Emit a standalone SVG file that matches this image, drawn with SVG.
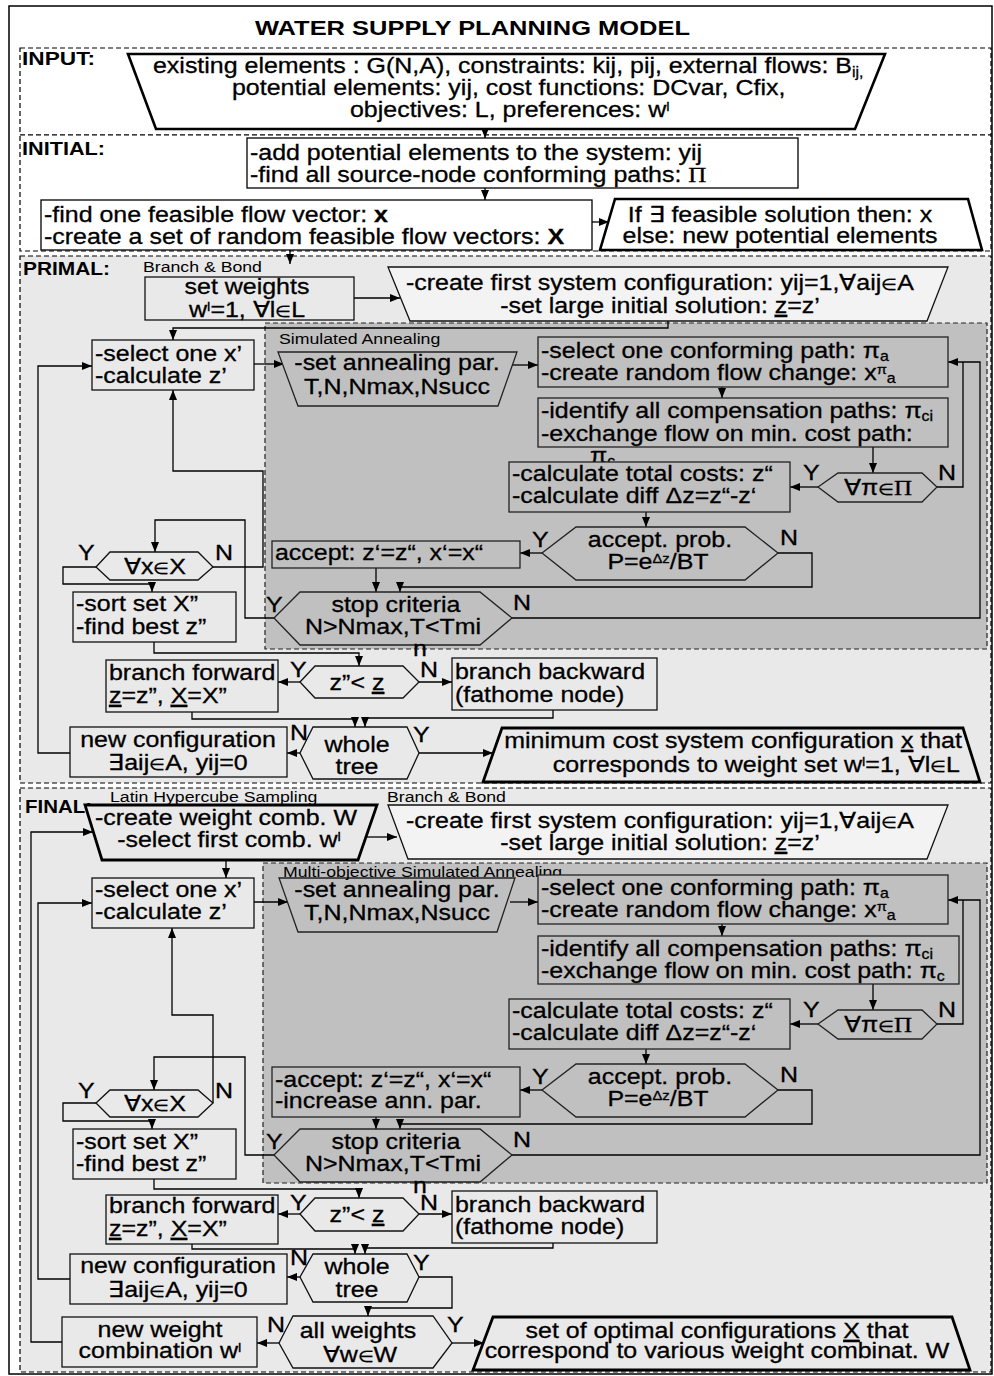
<svg xmlns="http://www.w3.org/2000/svg" width="994" height="1376" viewBox="0 0 994 1376">
<style>
text{font-family:"Liberation Sans",Arial,Helvetica,sans-serif;fill:#000}
.t{font-size:22px;stroke:#000;stroke-width:0.3;transform-box:fill-box;transform:scaleX(1.135)}
.s{font-size:15px;transform-box:fill-box;transform:scaleX(1.18)}
.l{transform-origin:0% 50%}
.m{text-anchor:middle;transform-origin:50% 50%}
.e{text-anchor:end;transform-origin:100% 50%}
.bl{font-size:17.5px;font-weight:bold}
.ttl{font-size:19.5px;font-weight:bold}
.sup{font-size:13px}
.sub{font-size:14px}
.el{font-size:16px}
.ser{font-family:"Liberation Serif","Times New Roman",serif}
.u{text-decoration:underline}
.frame{fill:#fff;stroke:#000;stroke-width:1.5}
.zw{fill:#fff;stroke:#000;stroke-width:1.2;stroke-dasharray:5 3}
.zg{fill:#e9e9e9;stroke:#000;stroke-width:1.2;stroke-dasharray:5 3}
.zd{fill:#c0c0c0;stroke:#222;stroke-width:1.2;stroke-dasharray:5 3}
.bw{fill:#fff;stroke:#000;stroke-width:1.3}
.bg{fill:#e9e9e9;stroke:#111;stroke-width:1.3}
.bp{fill:#f3f3f3;stroke:#111;stroke-width:1.3}
.bd{fill:#c0c0c0;stroke:#222;stroke-width:1.3}
.tw{fill:#fff;stroke:#000;stroke-width:2.6}
.tg{fill:#e9e9e9;stroke:#000;stroke-width:2.8}
.c{fill:none;stroke:#000;stroke-width:1.3;marker-end:url(#ah)}
.cn{fill:none;stroke:#000;stroke-width:1.3}
</style>
<defs>
<marker id="ah" viewBox="0 0 10 8" refX="10" refY="4" markerWidth="10" markerHeight="8" markerUnits="userSpaceOnUse" orient="auto"><path d="M0,0L10,4L0,8z" fill="#000"/></marker>
</defs>

<!-- frame and zones -->
<g id="zones">
<rect class="frame" x="9" y="6" width="983" height="1368"/>
<text class="ttl" x="255" y="35" textLength="435" lengthAdjust="spacingAndGlyphs">WATER SUPPLY PLANNING MODEL</text>
<rect class="zw" x="20" y="48" width="971" height="87"/>
<rect class="zw" x="20" y="135" width="971" height="116"/>
<rect class="zg" x="20" y="256" width="971" height="527"/>
<rect class="zg" x="20" y="788" width="971" height="584"/>
<rect class="zd" x="265" y="323" width="722" height="326"/>
<rect class="zd" x="263" y="863" width="724" height="320"/>
<text class="bl" x="22" y="65" textLength="73" lengthAdjust="spacingAndGlyphs">INPUT:</text>
<text class="bl" x="22" y="155" textLength="83" lengthAdjust="spacingAndGlyphs">INITIAL:</text>
<text class="bl" x="23" y="275" textLength="87" lengthAdjust="spacingAndGlyphs">PRIMAL:</text>
<text class="bl" x="25" y="813" textLength="67" lengthAdjust="spacingAndGlyphs">FINAL:</text>
<text class="s l" x="143" y="272">Branch &amp; Bond</text>
<text class="s l" x="279" y="344">Simulated Annealing</text>
<text class="s l" x="110" y="802">Latin Hypercube Sampling</text>
<text class="s l" x="387" y="802">Branch &amp; Bond</text>
</g>

<!-- connectors -->
<g id="connectors">
<path class="c" d="M485,129V138"/>
<path class="c" d="M485,188V200"/>
<path class="c" d="M592,222H609"/>
<path class="c" d="M290,250V264"/>
<path class="c" d="M354,298H400"/>
<path class="c" d="M668,321V328H173V340"/>
<path class="c" d="M70,753H38V366H92"/>
<path class="c" d="M254,364H284"/>
<path class="c" d="M510,365H538"/>
<path class="c" d="M722,387V398"/>
<path class="c" d="M873,447V473"/>
<path class="c" d="M818,487H790"/>
<path class="cn" d="M937,487H963V362"/>
<path class="c" d="M646,512V527"/>
<path class="c" d="M542,553H520"/>
<path class="c" d="M778,553H812V587H400V592"/>
<path class="c" d="M376,568V592"/>
<path class="c" d="M512,618H980V362H948"/>
<path class="c" d="M274,618H245V520H155V552"/>
<path class="c" d="M96,567H63V584H152V592"/>
<path class="c" d="M213,567H263V471H173V390"/>
<path class="c" d="M154,642V653H359V666"/>
<path class="c" d="M300,682H278"/>
<path class="c" d="M419,682H452"/>
<path class="c" d="M192,712V719H355V727"/>
<path class="c" d="M553,710V718H365V727"/>
<path class="c" d="M300,753H287"/>
<path class="c" d="M419,753H493"/>

<path class="c" d="M226,860V878"/>
<path class="c" d="M366,837H397"/>
<path class="c" d="M62,1342H31V832H93"/>
<path class="c" d="M254,902H288"/>
<path class="c" d="M510,902H538"/>
<path class="c" d="M722,924V936"/>
<path class="c" d="M873,984V1010"/>
<path class="c" d="M818,1024H790"/>
<path class="cn" d="M937,1024H963V900"/>
<path class="c" d="M646,1049V1064"/>
<path class="c" d="M542,1090H520"/>
<path class="c" d="M778,1090H812V1124H400V1129"/>
<path class="c" d="M376,1117V1129"/>
<path class="c" d="M512,1155H980V900H948"/>
<path class="c" d="M274,1155H245V1057H154V1090"/>
<path class="c" d="M96,1103H63V1121H152V1129"/>
<path class="c" d="M213,1103V1015H172V928"/>
<path class="c" d="M154,1179V1189H359V1198"/>
<path class="c" d="M300,1214H278"/>
<path class="c" d="M419,1214H452"/>
<path class="c" d="M192,1244V1249H355V1254"/>
<path class="c" d="M553,1243V1248H365V1254"/>
<path class="c" d="M300,1277H287"/>
<path class="c" d="M70,1279H38V903H92"/>
<path class="c" d="M419,1277H452V1308H368V1316"/>
<path class="c" d="M279,1343H257"/>
<path class="c" d="M452,1343H484"/>
</g>

<!-- INPUT -->
<g id="input-data">
<polygon class="tw" points="128,54 885,54 855,129 156,129"/>
<text class="t l" x="153" y="73">existing elements : G(N,A), constraints: kij, pij, external flows: B<tspan class="sub" baseline-shift="-4">ij,</tspan></text>
<text class="t l" x="232" y="95">potential elements: yij, cost functions: DCvar, Cfix,</text>
<text class="t l" x="350" y="117">objectives: L, preferences: w<tspan class="sup" baseline-shift="6">l</tspan></text>
</g>

<!-- INITIAL -->
<g id="add-potential">
<rect class="bw" x="247" y="138" width="551" height="50"/>
<text class="t l" x="250" y="160">-add potential elements to the system: yij</text>
<text class="t l" x="250" y="182">-find all source-node conforming paths: <tspan class="ser">Π</tspan></text>
</g>
<g id="feasible-flow">
<rect class="bw" x="41" y="200" width="551" height="50"/>
<text class="t l" x="44" y="222">-find one feasible flow vector: <tspan font-weight="bold">x</tspan></text>
<text class="t l" x="44" y="244">-create a set of random feasible flow vectors: <tspan font-weight="bold">X</tspan></text>
</g>
<g id="feasibility-check">
<polygon class="tw" points="615,199 968,199 982,250 600,250"/>
<text class="t m" x="780" y="222">If ∃ feasible solution then: x</text>
<text class="t m" x="780" y="243">else: new potential elements</text>
</g>

<!-- PRIMAL -->
<g id="p-set-weights">
<rect class="bg" x="145" y="277" width="209" height="43" stroke-width="3"/>
<text class="t m" x="247" y="294">set weights</text>
<text class="t m" x="247" y="317">w<tspan class="sup" baseline-shift="6">l</tspan>=1, ∀l<tspan class="el">∈</tspan>L</text>
</g>
<g id="p-first-config">
<polygon class="bp" points="388,267 948,267 927,321 410,321"/>
<text class="t m" x="660" y="290">-create first system configuration: yij=1,∀aij<tspan class="el">∈</tspan>A</text>
<text class="t m" x="660" y="313">-set large initial solution: <tspan class="u">z</tspan>=z’</text>
</g>
<g id="p-select-x">
<rect class="bg" x="92" y="340" width="162" height="50"/>
<text class="t l" x="95" y="361">-select one x’</text>
<text class="t l" x="95" y="383">-calculate z’</text>
</g>
<g id="p-anneal-par">
<polygon class="bd" points="278,352 517,352 498,406 298,406"/>
<text class="t m" x="397" y="370">-set annealing par.</text>
<text class="t m" x="397" y="394">T,N,Nmax,Nsucc</text>
</g>
<g id="p-path">
<rect class="bd" x="538" y="337" width="410" height="50"/>
<text class="t l" x="541" y="358">-select one conforming path: π<tspan class="sub" baseline-shift="-3">a</tspan></text>
<text class="t l" x="541" y="380">-create random flow change: x<tspan class="sup" baseline-shift="6">π</tspan><tspan class="sub" baseline-shift="-3">a</tspan></text>
</g>
<g id="p-compensation">
<rect class="bd" x="538" y="398" width="410" height="49"/>
<text class="t l" x="541" y="418">-identify all compensation paths: π<tspan class="sub" baseline-shift="-3">ci</tspan></text>
<text class="t l" x="541" y="441">-exchange flow on min. cost path:</text>
<text class="t l" x="590" y="463">π<tspan class="sub" baseline-shift="-3">c</tspan></text>
</g>
<g id="p-all-paths">
<polygon class="bd" points="818,487 838,473 922,473 937,487 922,502 838,502"/>
<text class="t m" x="878" y="495">∀π<tspan class="el">∈</tspan><tspan class="ser">Π</tspan></text>
<text class="t l" x="803" y="480">Y</text>
<text class="t l" x="938" y="480">N</text>
</g>
<g id="p-costs">
<rect class="bd" x="509" y="462" width="281" height="50"/>
<text class="t l" x="512" y="481">-calculate total costs:  z“</text>
<text class="t l" x="512" y="503">-calculate diff Δz=z“-z‘</text>
</g>
<g id="p-accept-prob">
<polygon class="bd" points="542,553 576,527 745,527 778,553 745,580 576,580"/>
<text class="t m" x="660" y="547">accept. prob.</text>
<text class="t m" x="658" y="569">P=e<tspan class="sup" baseline-shift="6">Δz</tspan>/BT</text>
<text class="t l" x="532" y="547">Y</text>
<text class="t l" x="780" y="545">N</text>
</g>
<g id="p-accept">
<rect class="bd" x="272" y="541" width="248" height="27"/>
<text class="t l" x="275" y="560">accept: z‘=z“, x‘=x“</text>
</g>
<g id="p-stop">
<polygon class="bd" points="274,618 300,592 480,592 512,618 480,645 300,645"/>
<text class="t m" x="396" y="612">stop criteria</text>
<text class="t m" x="393" y="634">N&gt;Nmax,T&lt;Tmi</text>
<text class="t l" x="413" y="656">n</text>
<text class="t l" x="266" y="612">Y</text>
<text class="t l" x="513" y="610">N</text>
</g>
<g id="p-all-x">
<polygon class="bg" points="96,567 110,552 198,552 213,567 198,580 110,580"/>
<text class="t m" x="155" y="574">∀x<tspan class="el">∈</tspan>X</text>
<text class="t l" x="78" y="560">Y</text>
<text class="t l" x="215" y="560">N</text>
</g>
<g id="p-sort">
<rect class="bg" x="73" y="592" width="163" height="50"/>
<text class="t l" x="76" y="611">-sort set X”</text>
<text class="t l" x="76" y="634">-find best z”</text>
</g>
<g id="p-compare">
<polygon class="bg" points="300,682 315,666 403,666 419,682 403,698 315,698"/>
<text class="t m" x="357" y="690">z”&lt; <tspan class="u">z</tspan></text>
<text class="t l" x="290" y="677">Y</text>
<text class="t l" x="420" y="677">N</text>
</g>
<g id="p-forward">
<rect class="bg" x="106" y="660" width="172" height="52"/>
<text class="t l" x="109" y="680">branch forward</text>
<text class="t l" x="109" y="703"><tspan class="u">z</tspan>=z”, <tspan class="u">X</tspan>=X”</text>
</g>
<g id="p-backward">
<rect class="bg" x="452" y="658" width="205" height="52"/>
<text class="t l" x="455" y="679">branch backward</text>
<text class="t l" x="455" y="702">(fathome node)</text>
</g>
<g id="p-whole-tree">
<polygon class="bg" points="300,753 313,727 407,727 419,753 407,779 313,779"/>
<text class="t m" x="357" y="752">whole</text>
<text class="t m" x="357" y="774">tree</text>
<text class="t l" x="290" y="740">N</text>
<text class="t l" x="413" y="742">Y</text>
</g>
<g id="p-new-config">
<rect class="bg" x="70" y="727" width="217" height="50"/>
<text class="t m" x="178" y="747">new configuration</text>
<text class="t m" x="178" y="770">∃aij<tspan class="el">∈</tspan>A, yij=0</text>
</g>
<g id="p-result">
<polygon class="tg" points="502,728 963,728 980,782 483,782"/>
<text class="t e" x="962" y="748">minimum cost  system configuration <tspan class="u">x</tspan> that</text>
<text class="t e" x="960" y="772">corresponds to weight set w<tspan class="sup" baseline-shift="6">l</tspan>=1, ∀l<tspan class="el">∈</tspan>L</text>
</g>

<!-- FINAL -->
<g id="f-weight-comb">
<polygon class="tg" points="85,805 377,805 358,860 102,860"/>
<text class="t m" x="226" y="825">-create weight comb. W</text>
<text class="t m" x="229" y="847">-select first comb. w<tspan class="sup" baseline-shift="6">l</tspan></text>
</g>
<g id="f-first-config">
<polygon class="bp" points="388,805 948,805 927,859 408,859"/>
<text class="t m" x="660" y="828">-create first system configuration: yij=1,∀aij<tspan class="el">∈</tspan>A</text>
<text class="t m" x="660" y="850">-set large initial solution: <tspan class="u">z</tspan>=z’</text>
</g>
<g id="f-select-x">
<rect class="bg" x="92" y="878" width="162" height="50"/>
<text class="t l" x="95" y="897">-select one x’</text>
<text class="t l" x="95" y="919">-calculate z’</text>
</g>
<g id="f-anneal-par">
<polygon class="bd" points="279,878 515,878 497,932 298,932"/>
<text class="t m" x="397" y="897">-set annealing par.</text>
<text class="t m" x="397" y="920">T,N,Nmax,Nsucc</text>
<text class="s l" x="283" y="877">Multi-objective Simulated Annealing</text>
</g>
<g id="f-path">
<rect class="bd" x="538" y="875" width="410" height="49"/>
<text class="t l" x="541" y="895">-select one conforming path: π<tspan class="sub" baseline-shift="-3">a</tspan></text>
<text class="t l" x="541" y="917">-create random flow change: x<tspan class="sup" baseline-shift="6">π</tspan><tspan class="sub" baseline-shift="-3">a</tspan></text>
</g>
<g id="f-compensation">
<rect class="bd" x="538" y="936" width="421" height="48"/>
<text class="t l" x="541" y="956">-identify all compensation paths: π<tspan class="sub" baseline-shift="-3">ci</tspan></text>
<text class="t l" x="541" y="978">-exchange flow on min. cost path: π<tspan class="sub" baseline-shift="-3">c</tspan></text>
</g>
<g id="f-all-paths">
<polygon class="bd" points="818,1024 838,1010 922,1010 937,1024 922,1039 838,1039"/>
<text class="t m" x="878" y="1032">∀π<tspan class="el">∈</tspan><tspan class="ser">Π</tspan></text>
<text class="t l" x="803" y="1017">Y</text>
<text class="t l" x="938" y="1017">N</text>
</g>
<g id="f-costs">
<rect class="bd" x="509" y="999" width="281" height="50"/>
<text class="t l" x="512" y="1018">-calculate total costs:  z“</text>
<text class="t l" x="512" y="1040">-calculate diff Δz=z“-z‘</text>
</g>
<g id="f-accept-prob">
<polygon class="bd" points="542,1090 576,1064 745,1064 778,1090 745,1117 576,1117"/>
<text class="t m" x="660" y="1084">accept. prob.</text>
<text class="t m" x="658" y="1106">P=e<tspan class="sup" baseline-shift="6">Δz</tspan>/BT</text>
<text class="t l" x="532" y="1084">Y</text>
<text class="t l" x="780" y="1082">N</text>
</g>
<g id="f-accept">
<rect class="bd" x="272" y="1067" width="248" height="50"/>
<text class="t l" x="275" y="1087">-accept: z‘=z“, x‘=x“</text>
<text class="t l" x="275" y="1108">-increase ann. par.</text>
</g>
<g id="f-stop">
<polygon class="bd" points="274,1155 300,1129 480,1129 512,1155 480,1182 300,1182"/>
<text class="t m" x="396" y="1149">stop criteria</text>
<text class="t m" x="393" y="1171">N&gt;Nmax,T&lt;Tmi</text>
<text class="t l" x="413" y="1193">n</text>
<text class="t l" x="266" y="1149">Y</text>
<text class="t l" x="513" y="1147">N</text>
</g>
<g id="f-all-x">
<polygon class="bg" points="96,1103 110,1090 198,1090 213,1103 198,1117 110,1117"/>
<text class="t m" x="155" y="1111">∀x<tspan class="el">∈</tspan>X</text>
<text class="t l" x="78" y="1098">Y</text>
<text class="t l" x="215" y="1098">N</text>
</g>
<g id="f-sort">
<rect class="bg" x="73" y="1129" width="163" height="50"/>
<text class="t l" x="76" y="1149">-sort set X”</text>
<text class="t l" x="76" y="1171">-find best z”</text>
</g>
<g id="f-compare">
<polygon class="bg" points="300,1214 315,1198 403,1198 419,1214 403,1231 315,1231"/>
<text class="t m" x="357" y="1222">z”&lt; <tspan class="u">z</tspan></text>
<text class="t l" x="290" y="1210">Y</text>
<text class="t l" x="420" y="1210">N</text>
</g>
<g id="f-forward">
<rect class="bg" x="106" y="1195" width="172" height="49"/>
<text class="t l" x="109" y="1213">branch forward</text>
<text class="t l" x="109" y="1236"><tspan class="u">z</tspan>=z”, <tspan class="u">X</tspan>=X”</text>
</g>
<g id="f-backward">
<rect class="bg" x="452" y="1191" width="205" height="52"/>
<text class="t l" x="455" y="1212">branch backward</text>
<text class="t l" x="455" y="1234">(fathome node)</text>
</g>
<g id="f-whole-tree">
<polygon class="bg" points="300,1277 313,1254 407,1254 419,1277 407,1302 313,1302"/>
<text class="t m" x="357" y="1274">whole</text>
<text class="t m" x="357" y="1297">tree</text>
<text class="t l" x="290" y="1265">N</text>
<text class="t l" x="413" y="1270">Y</text>
</g>
<g id="f-new-config">
<rect class="bg" x="70" y="1254" width="217" height="50"/>
<text class="t m" x="178" y="1273">new configuration</text>
<text class="t m" x="178" y="1297">∃aij<tspan class="el">∈</tspan>A, yij=0</text>
</g>
<g id="f-all-weights">
<polygon class="bg" points="279,1343 293,1316 433,1316 452,1343 433,1368 293,1368"/>
<text class="t m" x="358" y="1338">all weights</text>
<text class="t m" x="360" y="1362">∀w<tspan class="el">∈</tspan>W</text>
<text class="t l" x="267" y="1332">N</text>
<text class="t l" x="447" y="1332">Y</text>
</g>
<g id="f-new-weight">
<rect class="bg" x="62" y="1317" width="195" height="50"/>
<text class="t m" x="160" y="1337">new weight</text>
<text class="t m" x="160" y="1358">combination w<tspan class="sup" baseline-shift="6">l</tspan></text>
</g>
<g id="f-result">
<polygon class="tg" points="493,1317 952,1317 970,1370 473,1370"/>
<text class="t m" x="717" y="1338">set of optimal configurations <tspan class="u">X</tspan> that</text>
<text class="t m" x="717" y="1358">correspond to various weight combinat. W</text>
</g>
</svg>
